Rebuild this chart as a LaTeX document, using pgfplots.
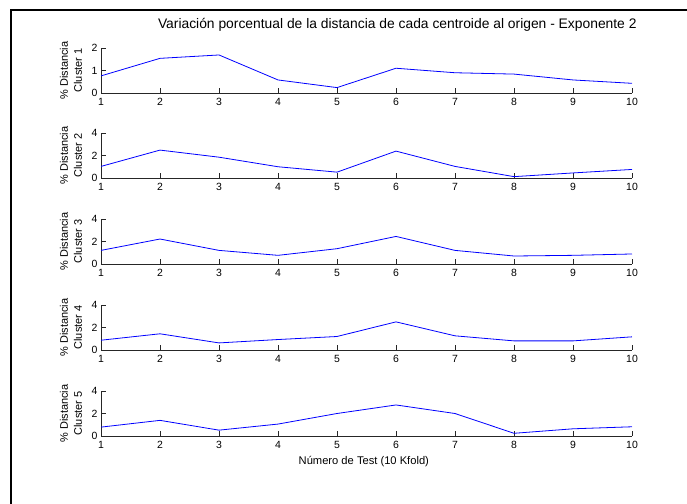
\documentclass[border=0pt]{standalone}
\usepackage{fontspec}
\setmainfont{Liberation Sans}
\usepackage{pgfplots}
\pgfplotsset{compat=1.18}
\pgfplotsset{
  panel/.style={
    scale only axis, width=531bp, height=45bp, anchor=south west,
    xmin=1, xmax=10, xtick={1,...,10}, ymin=0,
    axis lines=left, axis line style={-, black!85, line width=0.7bp},
    tick align=inside, major tick length=5bp, tick style={black!85, line width=0.7bp},
    ticklabel style={font=\fontsize{10.5}{12}\selectfont},
    xticklabel style={yshift=-2bp},
    /pgf/number format/assume math mode=true,
    every axis y label/.style={at={(axis description cs:-0.0565,0.5)}, rotate=90, anchor=center, align=center, font=\fontsize{11}{14}\selectfont},
  },
  dataline/.style={color={rgb,1:red,0;green,0;blue,1}, line width=0.8bp, mark=none},
}
\begin{document}
\begin{tikzpicture}
\useasboundingbox (0bp,0bp) rectangle (687bp,504bp);
\fill[white] (0bp,0bp) rectangle (687bp,504bp);
\draw[line width=2.5bp] (11bp,-2bp) -- (11bp,494bp) -- (690bp,494bp);

% Cluster 1
\begin{axis}[panel, at={(101bp,411bp)}, ymax=2, ytick={0,1,2},
  ylabel={\% Distancia\\Cluster 1},
  title={Variación porcentual de la distancia de cada centroide al origen - Exponente 2},
  title style={at={(axis description cs:0.558,1.378)}, anchor=center, font=\fontsize{13.9}{16}\selectfont}]
\addplot[dataline] coordinates {(1,0.76) (2,1.54) (3,1.69) (4,0.58) (5,0.24) (6,1.10) (7,0.90) (8,0.84) (9,0.58) (10,0.43)};
\end{axis}

% Cluster 2
\begin{axis}[panel, at={(101bp,326bp)}, ymax=4, ytick={0,2,4},
  ylabel={\% Distancia\\Cluster 2}]
\addplot[dataline] coordinates {(1,1.03) (2,2.48) (3,1.85) (4,1.00) (5,0.52) (6,2.39) (7,1.03) (8,0.12) (9,0.45) (10,0.76)};
\end{axis}

% Cluster 3
\begin{axis}[panel, at={(101bp,240bp)}, ymax=4, ytick={0,2,4},
  ylabel={\% Distancia\\Cluster 3}]
\addplot[dataline] coordinates {(1,1.21) (2,2.22) (3,1.21) (4,0.77) (5,1.36) (6,2.45) (7,1.21) (8,0.71) (9,0.77) (10,0.89)};
\end{axis}

% Cluster 4
\begin{axis}[panel, at={(101bp,154bp)}, ymax=4, ytick={0,2,4},
  ylabel={\% Distancia\\Cluster 4}]
\addplot[dataline] coordinates {(1,0.87) (2,1.44) (3,0.63) (4,0.93) (5,1.20) (6,2.50) (7,1.26) (8,0.81) (9,0.81) (10,1.17)};
\end{axis}

% Cluster 5
\begin{axis}[panel, at={(101bp,68bp)}, ymax=4, ytick={0,2,4},
  ylabel={\% Distancia\\Cluster 5},
  xlabel={Número de Test (10 Kfold)},
  xlabel style={at={(axis description cs:0.495,-0.571)}, anchor=center, font=\fontsize{11.2}{13}\selectfont}]
\addplot[dataline] coordinates {(1,0.79) (2,1.39) (3,0.52) (4,1.06) (5,2.00) (6,2.76) (7,2.00) (8,0.24) (9,0.64) (10,0.82)};
\end{axis}
\end{tikzpicture}
\end{document}
